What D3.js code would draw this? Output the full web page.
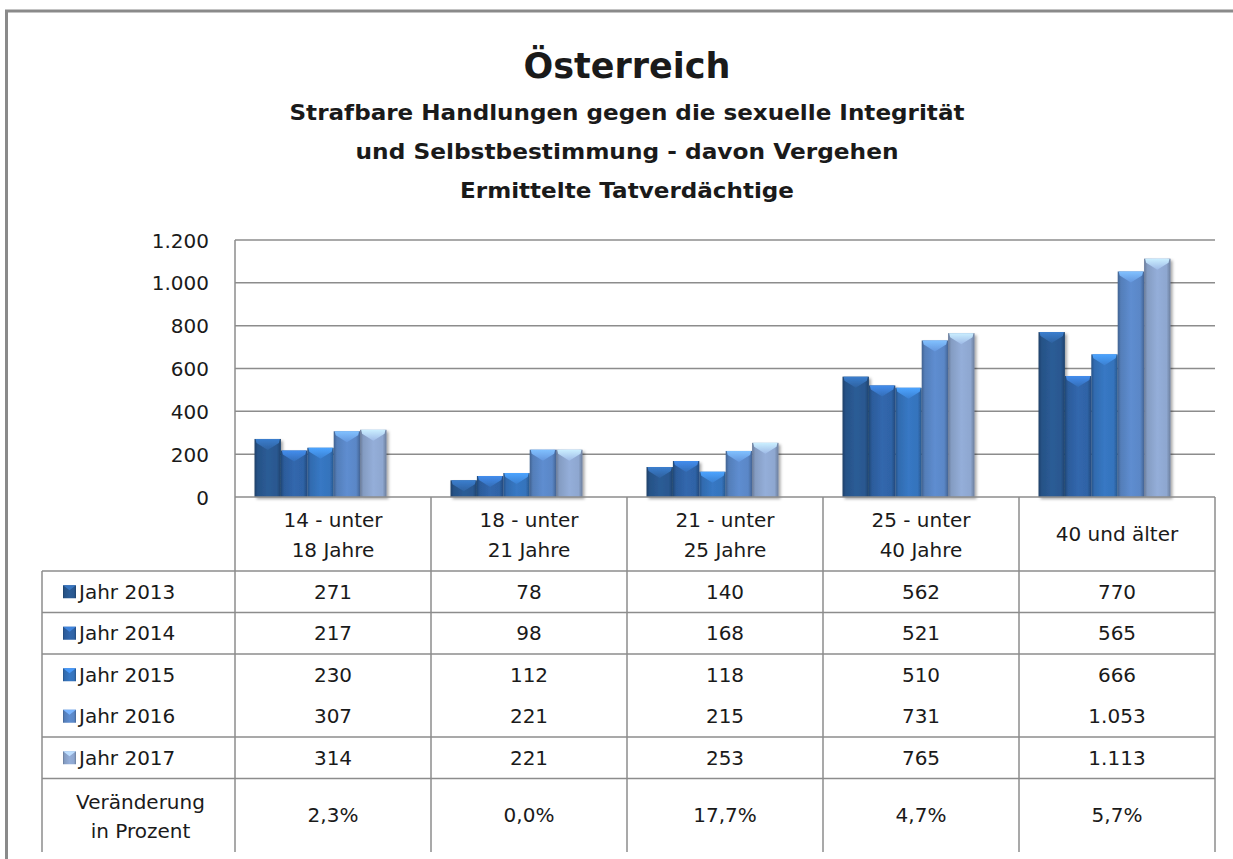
<!DOCTYPE html>
<html>
<head>
<meta charset="utf-8">
<script src="https://cdn.jsdelivr.net/npm/d3@7"></script>
<style>
  html, body { margin: 0; padding: 0; background: #fff; }
  svg { display: block; }
  text { font-family: "DejaVu Sans", "Liberation Sans", sans-serif; fill: #1a1a1a; }
</style>
</head>
<body>
<svg id="chart" width="1233" height="859"></svg>
<script>
// ---- data -------------------------------------------------------------
const titleText = "Österreich";
const subtitleLines = [
  "Strafbare Handlungen gegen die sexuelle Integrität",
  "und Selbstbestimmung - davon Vergehen",
  "Ermittelte Tatverdächtige"
];
const categories = ["14 - unter|18 Jahre", "18 - unter|21 Jahre", "21 - unter|25 Jahre", "25 - unter|40 Jahre", "40 und älter"];
const seriesNames = ["Jahr 2013", "Jahr 2014", "Jahr 2015", "Jahr 2016", "Jahr 2017"];
const values2013 = [271, 78, 140, 562, 770];
const values2014 = [217, 98, 168, 521, 565];
const values2015 = [230, 112, 118, 510, 666];
const values2016 = [307, 221, 215, 731, 1053];
const values2017 = [314, 221, 253, 765, 1113];
const changeLabel = ["Veränderung", "in Prozent"];
const changeValues = ["2,3%", "0,0%", "17,7%", "4,7%", "5,7%"];
const yTicks = [0, 200, 400, 600, 800, 1000, 1200];
const seriesColors = ["#295890", "#2f63a6", "#3573bc", "#5a87c7", "#8ea7d0"];

const seriesValues = [values2013, values2014, values2015, values2016, values2017];

// ---- layout -----------------------------------------------------------
const svg = d3.select("#chart");
const W = 1233, H = 859;
const plot = { left: 235, right: 1215, top: 240, bottom: 497 };
const tableLeft = 42;
const tableBottom = 852;
const headerBottom = 571;
const rowH = 41.5;

const locale = d3.formatLocale({ decimal: ",", thousands: ".", grouping: [3], currency: ["", "€"] });
const fmt = locale.format(",d");

const y = d3.scaleLinear().domain([0, 1200]).range([plot.bottom, plot.top]);
const x = d3.scaleBand().domain(categories).range([plot.left, plot.right]);
// bars sit left inside each category column (3D floor offset)
const xInner = d3.scaleBand().domain(seriesNames).range([19.5, 151.5]);

// outer frame
svg.append("line").attr("x1", 5).attr("x2", W).attr("y1", 11).attr("y2", 11)
  .attr("stroke", "#8a8a8a").attr("stroke-width", 3);
svg.append("line").attr("x1", 6.5).attr("x2", 6.5).attr("y1", 10).attr("y2", H)
  .attr("stroke", "#8a8a8a").attr("stroke-width", 3);

// titles
svg.append("text").attr("x", 627).attr("y", 78).attr("text-anchor", "middle")
  .attr("font-size", 35).attr("font-weight", "bold").text(titleText);
const subY = [120, 159, 198];
const subW = [675, 543, 334];
subtitleLines.forEach((s, i) => {
  svg.append("text").attr("x", 627).attr("y", subY[i]).attr("text-anchor", "middle")
    .attr("font-size", 21).attr("font-weight", "bold")
    .attr("textLength", subW[i]).attr("lengthAdjust", "spacingAndGlyphs").text(s);
});

// defs: gradients and shadow
const defs = svg.append("defs");
seriesColors.forEach((c, i) => {
  const base = d3.color(c);
  const g = defs.append("linearGradient").attr("id", "body" + i)
    .attr("x1", "0%").attr("x2", "100%").attr("y1", "0%").attr("y2", "0%");
  [[0, base.darker(0.9)], [0.12, base.darker(0.2)], [0.5, base.brighter(0.12)], [0.85, base], [1, base.darker(0.8)]]
    .forEach(([o, col]) => g.append("stop").attr("offset", o).attr("stop-color", col.formatHex()));
  const cg = defs.append("linearGradient").attr("id", "cap" + i)
    .attr("x1", "0%").attr("x2", "0%").attr("y1", "0%").attr("y2", "100%");
  cg.append("stop").attr("offset", 0).attr("stop-color", base.brighter(1.0).formatHex());
  cg.append("stop").attr("offset", 1).attr("stop-color", base.brighter(0.3).formatHex());
});
const f = defs.append("filter").attr("id", "shadow").attr("x", "-20%").attr("y", "-20%").attr("width", "150%").attr("height", "150%");
f.append("feDropShadow").attr("dx", 2).attr("dy", 2).attr("stdDeviation", 1.8)
  .attr("flood-color", "#000").attr("flood-opacity", 0.35);

// gridlines
const gridColor = "#8c8c8c";
svg.append("g").selectAll("line").data(yTicks.filter(t => t > 0)).join("line")
  .attr("x1", plot.left).attr("x2", plot.right)
  .attr("y1", d => y(d)).attr("y2", d => y(d))
  .attr("stroke", gridColor).attr("stroke-width", 1.5);

// y axis labels
const yAxis = d3.axisLeft(y).tickValues(yTicks).tickSize(0).tickPadding(0)
  .tickFormat(d => fmt(d));
const yg = svg.append("g").attr("transform", `translate(209,0)`).call(yAxis);
yg.select(".domain").remove();
yg.selectAll("text").attr("font-size", 20).attr("fill", "#1a1a1a")
  .style("font-family", '"DejaVu Sans", sans-serif').attr("dy", "0.35em");

// bars
const barData = [];
categories.forEach((cat, ci) => {
  seriesNames.forEach((s, si) => barData.push({ cat, s, si, v: seriesValues[si][ci] }));
});
const bars = svg.append("g").selectAll("g").data(barData).join("g")
  .attr("filter", "url(#shadow)");
bars.append("rect")
  .attr("x", d => x(d.cat) + xInner(d.s))
  .attr("y", d => y(d.v))
  .attr("width", xInner.bandwidth())
  .attr("height", d => y(0) - y(d.v))
  .attr("fill", d => `url(#body${d.si})`);
bars.append("polygon")
  .attr("points", d => {
    const x0 = x(d.cat) + xInner(d.s), w = xInner.bandwidth(), t = y(d.v);
    return [[x0 + 1, t], [x0 + w - 1, t], [x0 + w - 2, t + 4], [x0 + w / 2, t + 11], [x0 + 2, t + 4]]
      .map(p => p.join(",")).join(" ");
  })
  .attr("fill", d => `url(#cap${d.si})`);

// table grid
const tbl = svg.append("g").attr("stroke", gridColor).attr("stroke-width", 1.5);
tbl.append("line").attr("x1", plot.left).attr("x2", plot.right).attr("y1", plot.bottom).attr("y2", plot.bottom);
const colEdges = categories.map(c => x(c)).concat([plot.right]);
tbl.selectAll(".v").data(colEdges).join("line")
  .attr("x1", d => d).attr("x2", d => d)
  .attr("y1", (d, i) => i === 0 ? plot.top : plot.bottom).attr("y2", tableBottom);
tbl.append("line").attr("x1", tableLeft).attr("x2", tableLeft).attr("y1", headerBottom).attr("y2", tableBottom);
// row separators (none between 2015 and 2016)
const rowLines = [0, 1, 2, 4, 5].map(k => headerBottom + k * rowH);
tbl.selectAll(".h").data(rowLines).join("line")
  .attr("x1", tableLeft).attr("x2", plot.right)
  .attr("y1", d => d).attr("y2", d => d);

// header cells
categories.forEach(cat => {
  const lines = cat.split("|");
  const cx = x(cat) + x.bandwidth() / 2;
  const ys = lines.length === 2 ? [520, 550] : [534];
  lines.forEach((l, i) => {
    svg.append("text").attr("x", cx).attr("y", ys[i]).attr("dy", "0.35em")
      .attr("text-anchor", "middle").attr("font-size", 20).text(l);
  });
});

// data rows
seriesNames.forEach((s, si) => {
  const cy = headerBottom + rowH * (si + 0.5);
  const base = d3.color(seriesColors[si]);
  svg.append("rect").attr("x", 63).attr("y", cy - 6.5).attr("width", 13).attr("height", 13)
    .attr("fill", `url(#body${si})`);
  svg.append("polygon")
    .attr("points", `63,${cy - 6.5} 76,${cy - 6.5} 69.5,${cy - 1.5}`)
    .attr("fill", base.brighter(0.8).formatHex());
  svg.append("text").attr("x", 79).attr("y", cy).attr("dy", "0.35em")
    .attr("font-size", 20).text(s);
  categories.forEach((cat, ci) => {
    svg.append("text").attr("x", x(cat) + x.bandwidth() / 2).attr("y", cy).attr("dy", "0.35em")
      .attr("text-anchor", "middle").attr("font-size", 20).text(fmt(seriesValues[si][ci]));
  });
});

// change row
const changeTop = headerBottom + rowH * 5;
const changeMid = changeTop + 36;
changeLabel.forEach((l, i) => {
  svg.append("text").attr("x", (tableLeft + plot.left) / 2 + 2).attr("y", changeMid - 13 + i * 29)
    .attr("dy", "0.35em").attr("text-anchor", "middle").attr("font-size", 20).text(l);
});
categories.forEach((cat, ci) => {
  svg.append("text").attr("x", x(cat) + x.bandwidth() / 2).attr("y", changeMid).attr("dy", "0.35em")
    .attr("text-anchor", "middle").attr("font-size", 20).text(changeValues[ci]);
});
</script>
</body>
</html>
